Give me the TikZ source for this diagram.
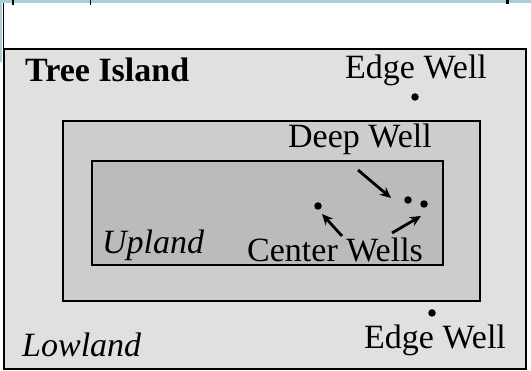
\documentclass[tikz,border=0pt]{standalone}
\usepackage{fontspec}
\setmainfont{Liberation Serif}
\usetikzlibrary{arrows.meta}

\definecolor{barra}{RGB}{166,208,214}
\definecolor{basso}{RGB}{224,224,224}
\definecolor{medio}{RGB}{205,205,205}
\definecolor{alto}{RGB}{187,187,187}

\begin{document}
\begin{tikzpicture}[x=1pt,y=-1pt,
    testo/.style={anchor=base west, inner sep=0pt, font=\fontsize{34}{37}\selectfont},
    pozzo/.style={circle, fill=black, inner sep=0pt, minimum size=7.5pt},
    freccia/.style={-{Stealth[length=11pt,width=10pt]}, line width=2.8pt}]
        \useasboundingbox (0,0) rectangle (531,371);

        % Barra in alto
        \fill[barra] (0,0) rectangle (531,3.5);
        \fill[barra] (0,0) rectangle (2,62);
        \draw[line width=0.8pt] (3,3) -- (3,49);
        \fill (12,0) rectangle (13.5,5);
        \fill (89.5,0) rectangle (91,5);
        \fill (505.5,0) rectangle (509,4);

        % Riquadri: lowland, fascia, upland
        \draw[line width=2pt, fill=basso] (4,49.5) rectangle (526,369);
        \draw[line width=2pt, fill=medio] (63,121) rectangle (479.5,301);
        \draw[line width=2pt, fill=alto] (92,161.5) rectangle (442.5,265.5);

        % Testi
        \node[testo] (isola) at (25,82) {\bfseries Tree Island};
        \node[testo] (bordoA) at (345,79) {Edge Well};
        \node[testo] (profondo) at (288,148) {Deep Well};
        \node[testo] (centro) at (247,262) {Center Wells};
        \node[testo] (upland) at (102,254) {\itshape Upland};
        \node[testo] (lowland) at (22,357) {\itshape Lowland};
        \node[testo] (bordoB) at (364,349) {Edge Well};

        % Pozzi
        \node[pozzo] (pA) at (415,97) {};
        \node[pozzo] (pB) at (432,313) {};
        \node[pozzo] (pP) at (408,200) {};
        \node[pozzo] (pC1) at (318,206) {};
        \node[pozzo] (pC2) at (424,204) {};

        % Frecce
        \coordinate (codaP) at (358,170);
        \coordinate (puntaP) at (391,198);
        \coordinate (codaC1) at (342,236);
        \coordinate (puntaC1) at (322,214);
        \coordinate (codaC2) at (392,233);
        \coordinate (puntaC2) at (421,216);
        \draw[freccia] (codaP) -- (puntaP);
        \draw[freccia] (codaC1) -- (puntaC1);
        \draw[freccia] (codaC2) -- (puntaC2);
    \end{tikzpicture}
\end{document}
